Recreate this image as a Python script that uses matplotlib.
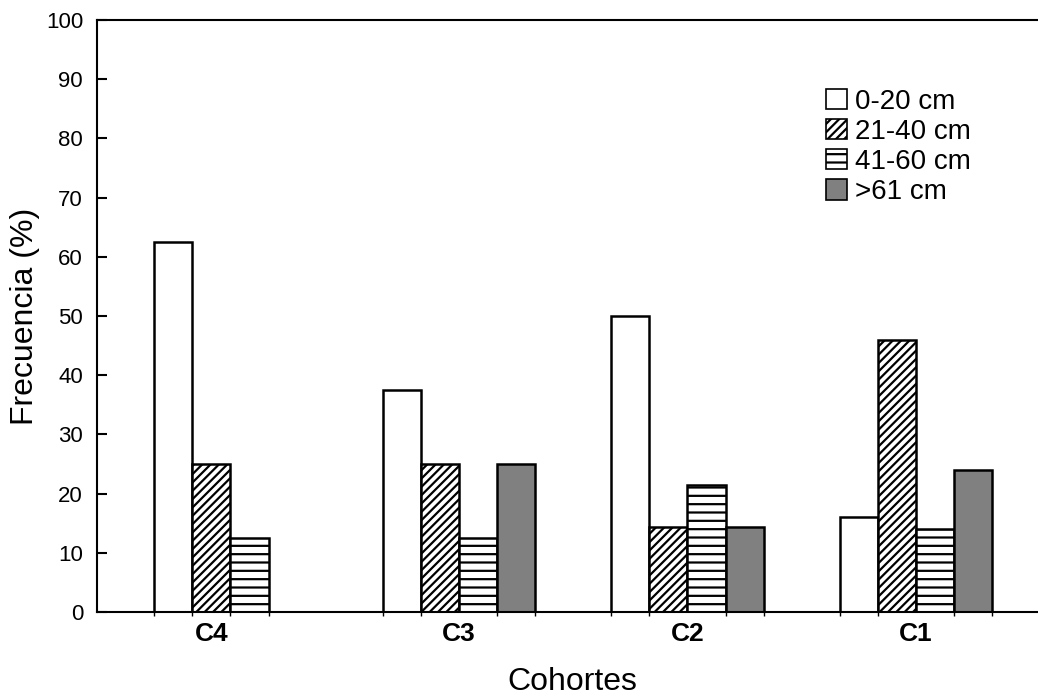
import numpy as np
import matplotlib
matplotlib.use("Agg")
import matplotlib.pyplot as plt
from matplotlib.patches import Patch

plt.rcParams["font.family"] = ["Liberation Sans", "DejaVu Sans"]
plt.rcParams["hatch.linewidth"] = 1.6

# ── datos ─────────────────────────────────────────────
cohortes = ["C4", "C3", "C2", "C1"]
clases   = ["0-20 cm", "21-40 cm", "41-60 cm", ">61 cm"]
f_0_20   = [62.5, 37.5, 50.0, 16.0]
f_21_40  = [25.0, 25.0, 14.3, 46.0]
f_41_60  = [12.5, 12.5, 21.4, 14.0]
f_61     = [0.0, 25.0, 14.3, 24.0]

series  = [f_0_20, f_21_40, f_41_60, f_61]
colores = ["white", "white", "white", "#808080"]
tramas  = [None, "////", "--", None]

fig = plt.figure(figsize=(10.38, 6.95), dpi=100)
ax = fig.add_axes([97 / 1038, 83 / 695, (1048 - 97) / 1038, 592 / 695])

x = np.arange(len(cohortes))
w = 0.167
bordes = []
centros = [[] for _ in cohortes]
for j, (vals, col, h) in enumerate(zip(series, colores, tramas)):
    pos = x - 1.5 * w + j * w
    for i, (p, v) in enumerate(zip(pos, vals)):
        if v <= 0:
            continue
        ax.bar(p, v, w, color=col, hatch=h, edgecolor="black", linewidth=1.8, zorder=2)
        bordes += [p - w / 2, p + w / 2]
        centros[i].append(p)

# etiqueta de cada cohorte centrada sobre sus barras con datos
ax.set_xticks([np.mean(c) for c in centros])
ax.set_xticklabels(cohortes, fontsize=19, fontweight="bold")
ax.set_xticks(sorted(set(np.round(bordes, 4))), minor=True)
ax.tick_params(axis="x", which="major", length=0, pad=7)
ax.tick_params(axis="x", which="minor", direction="out", length=3, width=1)

ax.set_xlim(-0.584, 3.578)
ax.set_ylim(0, 100)
ax.set_yticks(np.arange(0, 101, 10))
ax.tick_params(axis="y", direction="in", length=7, width=1.5, labelsize=16, pad=10)

for s in ["left", "bottom", "top"]:
    ax.spines[s].set_linewidth(1.5)
ax.spines["right"].set_visible(False)

ax.set_ylabel("Frecuencia (%)", fontsize=23, labelpad=4)
ax.set_xlabel("Cohortes", fontsize=23, labelpad=15)

handles = [Patch(facecolor=c, edgecolor="black", hatch=h, linewidth=1.2)
           for c, h in zip(colores, tramas)]
ax.legend(handles, clases, loc="upper left", bbox_to_anchor=(0.755, 0.903),
          frameon=False, fontsize=20, handlelength=0.75, handleheight=0.75,
          handletextpad=0.3, labelspacing=0.15, borderaxespad=0)

fig.savefig("out.png", dpi=100)
